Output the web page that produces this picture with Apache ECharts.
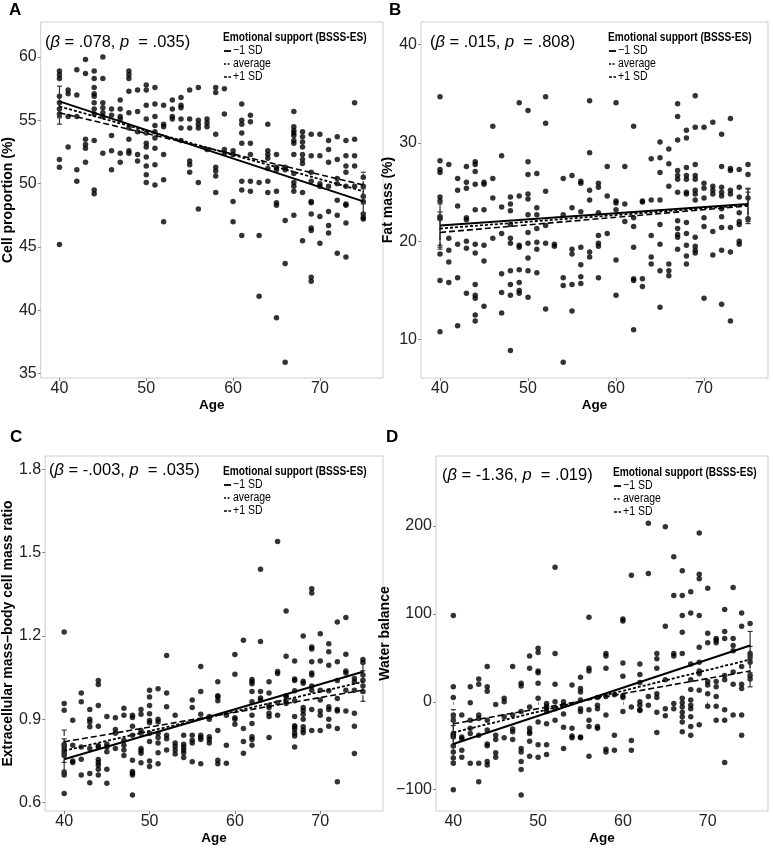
<!DOCTYPE html>
<html>
<head>
<meta charset="utf-8">
<script src="https://cdn.jsdelivr.net/npm/echarts@6.0.0/dist/echarts.min.js"></script>
<style>
html,body{margin:0;padding:0;background:#fff;}
#chart{width:773px;height:850px;}
</style>
</head>
<body>
<div id="chart"></div>
<script>
// ---------------- DATA ----------------
const groupNames = ['\u22121 SD', 'average', '+1 SD'];
const ageTicks = [40, 50, 60, 70];

// Panel A: Cell proportion (%)
const cellTicks = [35, 40, 45, 50, 55, 60];
const cellColumns = [
 [40,[58.9,58.6,58.3,56.9,56.4,55.9,55.5,51.9,51.3,45.2]],
 [41,[57.4,57.1,55.3,52.9]],
 [42,[59.0,57.0,55.3,51.1,50.2]],
 [43,[59.8,58.7,53.5,53.1,52.8,51.7]],
 [44,[58.9,58.3,57.6,57.1,56.9,56.4,55.9,55.5,53.4,49.5,49.2]],
 [45,[60.0,58.3,56.4,56.0,55.6,55.3,52.4]],
 [46,[55.9,55.4,53.8,52.6,51.1]],
 [47,[56.6,55.9,55.3,55.1,52.4,51.7]],
 [48,[58.9,58.6,58.3,57.3,55.6,54.4,53.5,52.6,52.4]],
 [49,[57.4,55.7,54.1,52.3,51.8]],
 [50,[57.8,57.4,56.2,55.1,54.0,53.2,52.9,52.1,51.4,50.7,50.1]],
 [51,[57.6,56.3,55.3,54.6,54.1,53.6,52.8,51.5,49.9]],
 [52,[56.2,54.7,54.5,52.3,50.3,47.0]],
 [53,[56.6,55.9,55.3,55.1]],
 [54,[56.8,56.2,56.0,55.1,54.4,53.4]],
 [55,[57.4,55.1,54.4,51.8,51.5,50.9]],
 [56,[57.6,55.0,54.7,54.4,50.1,48.0]],
 [57,[55.1,54.8,54.5,52.7]],
 [58,[57.6,57.2,53.9,51.3,51.0,50.6,49.3]],
 [59,[57.5,55.5,52.7,52.4]],
 [60,[52.6,52.3,48.6,47.0]],
 [61,[56.3,55.0,54.7,54.0,53.2,50.2,49.5,45.9]],
 [62,[55.4,54.9,53.2,52.3,50.2,49.4]],
 [63,[50.1,45.9,41.1]],
 [64,[54.7,52.6,52.3,52.0,51.2,50.2,49.3]],
 [65,[52.3,51.3,51.1,49.4,48.5,48.3,39.4]],
 [66,[51.3,51.1,47.1,43.7,35.9]],
 [67,[55.7,54.5,54.2,54.0,53.8,53.4,53.2,52.3,50.8,50.1,49.8,49.4,47.5]],
 [68,[54.1,53.7,53.3,52.9,52.3,51.9,51.6,49.3,45.5]],
 [69,[53.9,52.2,50.9,50.2,48.6,48.5,47.6,46.5,46.3,42.6,42.3]],
 [70,[53.9,52.2,50.0,49.8,47.4,45.3]],
 [71,[53.4,52.7,51.7,49.8,47.8,46.7,46.1]],
 [72,[53.7,51.9,50.4,50.0,48.7,47.5,44.5]],
 [73,[53.4,52.2,51.4,50.9,49.8,48.4,48.3,46.9,44.2]],
 [74,[56.4,53.5,52.2,51.4,49.8]],
 [75,[50.5,49.8,49.0,48.6,47.6,47.3,47.2]]
];
const cellFit = [[56.5,48.6],[56.1,49.4],[55.6,49.9]];       // value at age 40, 75
const cellCI40 = [[55.3,57.7],[55.2,57.0],[54.7,56.5]];
const cellCI75 = [[47.6,49.6],[48.4,50.4],[48.9,50.9]];

// Panel B: Fat mass (%)
const fatTicks = [10, 20, 30, 40];
const fatColumns = [
 [40,[34.7,28.2,27.3,27.0,24.5,24.1,22.5,22.3,18.7,16.0,10.8]],
 [41,[27.8,20.3,19.1,17.9,15.8]],
 [42,[26.4,25.2,23.6,19.7,16.3,11.4]],
 [43,[27.6,26.0,25.4,22.4,22.2,20.0,19.3,14.7]],
 [44,[28.1,27.8,27.1,25.8,23.2,19.7,18.8,15.6,14.5,14.2,12.5,11.9]],
 [45,[26.0,25.8,23.2,19.6,18.0,13.4]],
 [46,[31.7,26.4,24.4,20.3]],
 [47,[28.7,23.5,20.8,16.7,14.8,12.7]],
 [48,[24.5,23.8,23.1,21.7,20.3,19.8,17.0,15.6,14.5,8.9]],
 [49,[34.1,24.6,19.6,19.4,17.1,15.8,15.0,14.7]],
 [50,[33.3,28.1,26.8,24.8,24.3,22.7,20.9,19.8,18.3,17.0,14.3]],
 [51,[26.9,23.4,22.7,21.3,19.9,19.2,16.8]],
 [52,[34.7,32.0,25.1,21.6,19.8,13.1]],
 [53,[19.7,19.5]],
 [54,[26.4,22.7,16.3,15.5,7.7]],
 [55,[26.7,23.4,19.2,18.7,15.6,12.9]],
 [56,[26.1,25.9,23.0,19.4,17.6,16.4,15.7]],
 [57,[34.3,29.0,25.2,24.2,18.9,18.4]],
 [58,[25.9,25.5,22.9,20.6,19.8,19.5,16.3]],
 [59,[27.6,24.6,20.8]],
 [60,[34.1,24.1,23.9,23.2,18.1,14.5]],
 [61,[27.6,23.8,22.0]],
 [62,[31.7,22.4,21.5,19.4,16.2,16.0,11.0]],
 [63,[24.1,24.0,16.2,15.4]],
 [64,[28.4,24.2,20.6,18.4,17.7]],
 [65,[30.1,28.5,27.0,24.2,21.7,19.7,17.0,13.3]],
 [66,[29.4,27.9,25.6,17.7,17.0,16.5]],
 [67,[34.0,32.7,30.3,27.2,26.7,26.3,25.0,22.1,21.3,20.7,20.4,19.2]],
 [68,[31.3,30.5,27.5,26.7,26.3,25.0,24.8,21.9,20.8,19.6,18.5,17.7]],
 [69,[34.8,31.6,27.8,26.7,26.3,25.2,24.8,24.2,20.4,19.5,19.1,18.8]],
 [70,[31.6,25.9,25.4,24.4,22.4,21.5,14.2]],
 [71,[32.1,25.6,25.2,24.8,21.0,18.6]],
 [72,[30.9,27.6,25.5,25.0,24.6,23.3,22.5,21.4,19.1,13.6]],
 [73,[32.5,27.4,27.2,25.2,24.8,21.4,18.9,11.9]],
 [74,[27.3,25.5,24.5,22.9,22.0,21.7,20.0,19.7]],
 [75,[27.8,26.8,24.4,22.3]]
];
const fatFit = [[21.6,23.8],[21.3,23.7],[20.9,23.6]];
const fatCI40 = [[19.4,23.8],[19.6,23.0],[19.2,22.6]];
const fatCI75 = [[22.0,25.4],[22.2,25.0],[21.8,25.3]];

// Panel C: Extracellular mass–body cell mass ratio
const ratioTicks = [0.6, 0.9, 1.2, 1.5, 1.8];
const ratioColumns = [
 [40,[1.214,0.957,0.933,0.81,0.80,0.79,0.78,0.77,0.71,0.70,0.633]],
 [41,[0.897,0.807,0.75,0.745]],
 [42,[0.995,0.963,0.80,0.756,0.70]],
 [43,[0.935,0.90,0.89,0.873,0.795,0.705,0.672]],
 [44,[1.04,1.025,0.95,0.875,0.805,0.80,0.755,0.745,0.735,0.72,0.70]],
 [45,[0.91,0.81,0.80,0.783,0.72,0.67]],
 [46,[0.906,0.863,0.85,0.795]],
 [47,[0.94,0.915,0.825,0.807,0.79,0.77]],
 [48,[0.915,0.907,0.875,0.843,0.753,0.712,0.706,0.70,0.628]],
 [49,[0.935,0.918,0.86,0.85,0.795,0.787,0.778,0.744]],
 [50,[1.005,0.98,0.95,0.92,0.896,0.888,0.85,0.82,0.75,0.73]],
 [51,[1.01,0.90,0.89,0.85,0.835,0.815,0.78,0.74]],
 [52,[1.13,0.995,0.945,0.843,0.83,0.79]],
 [53,[0.915,0.815,0.803,0.79,0.775]],
 [54,[0.843,0.81,0.80,0.79,0.78,0.763]],
 [55,[0.97,0.943,0.843,0.825,0.815,0.747]],
 [56,[1.09,1.0,0.918,0.843,0.835,0.827,0.74]],
 [57,[0.91,0.90,0.837,0.827,0.815]],
 [58,[1.035,0.985,0.98,0.967,0.86,0.753,0.74]],
 [59,[0.915,0.807,0.742]],
 [60,[1.133,1.062,0.906,0.90,0.882]],
 [61,[1.185,0.867,0.82,0.778]],
 [62,[1.043,1.035,1.028,1.0,0.963,0.915,0.885,0.837,0.827,0.807]],
 [63,[1.44,1.18,1.0,0.977,0.97]],
 [64,[1.035,0.995,0.95,0.943,0.922,0.91,0.835]],
 [65,[1.54,1.072,1.065,0.96,0.915]],
 [66,[1.29,1.127,0.985,0.98,0.963,0.957]],
 [67,[1.11,1.045,1.04,1.003,0.967,0.91,0.877,0.872,0.863,0.85,0.84,0.80]],
 [68,[1.2,1.037,1.03,0.943,0.932,0.918,0.90,0.873,0.862,0.852]],
 [69,[1.37,1.355,1.16,1.153,1.107,1.067,1.06,1.02,1.005,0.935,0.86]],
 [70,[1.208,1.11,1.005,0.97,0.93,0.915,0.86]],
 [71,[1.172,1.143,1.095,1.003,0.945,0.935,0.90,0.875]],
 [72,[1.25,1.107,1.04,0.975,0.935,0.93,0.867,0.675]],
 [73,[1.267,1.134,1.074,1.067,1.005,0.93]],
 [74,[1.047,1.035,1.005,0.922,0.875,0.777]],
 [75,[1.115,1.105,1.06,1.04,1.02,1.0]]
];
const ratioFit = [[0.756,1.071],[0.787,1.035],[0.819,1.005]];
const ratioCI40 = [[0.705,0.807],[0.745,0.83],[0.775,0.861]];
const ratioCI75 = [[1.04,1.103],[0.995,1.075],[0.965,1.045]];

// Panel D: Water balance
const waterTicks = [-100, 0, 100, 200];
const waterColumns = [
 [40,[98,17,5,-15,-21,-36,-38,-40,-50,-57,-64,-70,-100]],
 [41,[-15,-40,-42,-55,-63]],
 [42,[17,-1,-21,-30,-36,-70]],
 [43,[26,20,-15,-19,-38,-70,-91]],
 [44,[40,17,12,-21,-32,-48,-50,-68,-72]],
 [45,[-3,-38,-43,-58,-63]],
 [46,[4,0,-17,-41]],
 [47,[40,-15,-31,-34,-43]],
 [48,[21,18,-11,-53,-57,-68,-77,-106]],
 [49,[52,38,-6,-30,-34,-36,-45,-62]],
 [50,[61,56,35,33,21,4,-23,-49,-63]],
 [51,[-2,-5,-8,-11,-25,-49,-60]],
 [52,[153,55,20,0,-8,-21]],
 [53,[0,-4,-14,-29,-53]],
 [54,[19,-30,-39,-41]],
 [55,[28,15,11,2,-8,-11,-40,-41]],
 [56,[96,38,35,-9,-21,-28,-62]],
 [57,[5,-4,-8,-28,-30]],
 [58,[55,52,38,6,-15,-54,-57]],
 [59,[8,-38,-55]],
 [60,[94,92,44,29,7,5,-11]],
 [61,[144,-6,-44,-55]],
 [62,[43,31,22,0,-4,-9,-10]],
 [63,[203,146,6,-4]],
 [64,[55,49,38,9,5,-12,-35]],
 [65,[199,86,25,-8,-16]],
 [66,[165,121,55,52,-2,-8]],
 [67,[149,121,98,79,55,4,-1,-6,-12,-17,-23,-34]],
 [68,[125,101,43,25,14,2,-4,-8,-17,-28,-38]],
 [69,[192,145,140,98,62,45,35,32,13,-26]],
 [70,[129,78,67,23,19,9,-5]],
 [71,[72,70,67,23,17,6,-5,-21]],
 [72,[105,80,72,30,25,-9,-21,-69]],
 [73,[130,72,64,58,34,20,-15]],
 [74,[101,86,40,20,15,-15,-38]],
 [75,[89,55,51,45,26,30]]
];
const waterFit = [[-48,64],[-35,48],[-25,35]];
const waterCI40 = [[-68,-27],[-52,-18],[-41,-9]];
const waterCI75 = [[48,80],[33,63],[17,53]];

// ---------------- LAYOUT / STYLE ----------------
const REG = '"Liberation Sans",Arial,sans-serif';
const lineTypes = ['solid', [3, 2], [6, 3]];
const lineWidths = [2, 1.8, 1.6];
const NARROW_SCALE = 0.78;

const panels = [
  {key:'A', cols:cellColumns, fit:cellFit, ci40:cellCI40, ci75:cellCI75, ticks:cellTicks,
   grid:{left:36, top:22, width:347, height:356}, x:[37.84,77.27], y:[34.65,62.77],
   yname:'Cell proportion (%)', fmt:v=>String(v), beta:'.078', p:'.035',
   letter:[15,11], ann:[45,42], leg:[223,37], ygap:17},
  {key:'B', cols:fatColumns, fit:fatFit, ci40:fatCI40, ci75:fatCI75, ticks:fatTicks,
   grid:{left:421, top:22, width:347, height:356}, x:[37.84,77.27], y:[6.09,42.31],
   yname:'Fat mass (%)', fmt:v=>String(v), beta:'.015', p:'.808',
   letter:[395,11], ann:[430,42], leg:[608,37], ygap:15},
  {key:'C', cols:ratioColumns, fit:ratioFit, ci40:ratioCI40, ci75:ratioCI75, ticks:ratioTicks,
   grid:{left:40, top:456, width:343, height:355}, x:[37.77,77.35], y:[0.570,1.848],
   yname:'Extracellular mass\u2013body cell mass ratio', fmt:v=>v.toFixed(1), beta:'-.003', p:'.035',
   letter:[16,438], ann:[49,470], leg:[223,471], ygap:21},
  {key:'D', cols:waterColumns, fit:waterFit, ci40:waterCI40, ci75:waterCI75, ticks:waterTicks,
   grid:{left:436, top:456, width:332, height:355}, x:[37.96,77.11], y:[-124.2,279.5],
   yname:'Water balance', fmt:v=>String(v).replace('-', '\u2212'), beta:'-1.36', p:'.019',
   letter:[392,438], ann:[442,475], leg:[613,472], ygap:30}
];

function flatten(cols){
  const out = [];
  cols.forEach(c => c[1].forEach(v => out.push([c[0], v])));
  return out;
}

function errRender(dash, width){
  return function(params, api){
    const x = api.value(0), lo = api.value(1), hi = api.value(2);
    const a = api.coord([x, lo]), b = api.coord([x, hi]);
    const hw = 2.5;
    const st = {stroke:'#333', lineWidth:width, lineDash: dash === 'solid' ? null : dash, fill:null};
    const cst = {stroke:'#333', lineWidth:1.2, fill:null};
    return {type:'group', children:[
      {type:'line', shape:{x1:a[0], y1:a[1], x2:b[0], y2:b[1]}, style:st},
      {type:'line', shape:{x1:a[0]-hw, y1:a[1], x2:a[0]+hw, y2:a[1]}, style:cst},
      {type:'line', shape:{x1:b[0]-hw, y1:b[1], x2:b[0]+hw, y2:b[1]}, style:cst}
    ]};
  };
}

const grids = [], xAxes = [], yAxes = [], series = [], graphics = [];

panels.forEach((pn, i) => {
  grids.push(Object.assign({show:true, borderColor:'#cdcdcd', borderWidth:1, backgroundColor:'#fff', containLabel:false}, pn.grid));
  xAxes.push({
    type:'value', gridIndex:i, min:pn.x[0], max:pn.x[1],
    name:'Age', nameLocation:'middle', nameGap:18,
    nameTextStyle:{fontFamily:REG, fontWeight:'bold', fontSize:13.5, color:'#000'},
    axisLine:{show:false}, splitLine:{show:false},
    axisTick:{show:true, length:3, lineStyle:{color:'#888'}, customValues:ageTicks},
    axisLabel:{show:true, margin:3, fontFamily:REG, fontSize:16, color:'#222', customValues:ageTicks}
  });
  yAxes.push({
    type:'value', gridIndex:i, min:pn.y[0], max:pn.y[1],
    name:pn.yname, nameLocation:'middle', nameGap:pn.ygap,
    nameTextStyle:{fontFamily:REG, fontWeight:'bold', fontSize:14, color:'#000'},
    axisLine:{show:false}, splitLine:{show:false},
    axisTick:{show:true, length:3, lineStyle:{color:'#888'}, customValues:pn.ticks},
    axisLabel:{show:true, margin:4, fontFamily:REG, fontSize:16, color:'#222', customValues:pn.ticks, formatter:pn.fmt}
  });
  series.push({
    type:'scatter', xAxisIndex:i, yAxisIndex:i, data:flatten(pn.cols),
    symbol:'circle', symbolSize:5.5, itemStyle:{color:'#000'}, silent:true, z:2
  });
  groupNames.forEach((g, k) => {
    series.push({
      type:'line', name:g, xAxisIndex:i, yAxisIndex:i,
      data:[[40, pn.fit[k][0]], [75, pn.fit[k][1]]],
      symbol:'none', lineStyle:{color:'#000', width:lineWidths[k], type:lineTypes[k]}, z:4, silent:true
    });
    series.push({
      type:'custom', name:g + ' CI', xAxisIndex:i, yAxisIndex:i,
      data:[[40, pn.ci40[k][0], pn.ci40[k][1]], [75, pn.ci75[k][0], pn.ci75[k][1]]],
      renderItem: errRender(lineTypes[k], 1.2), z:3, silent:true
    });
  });

  // panel letter
  graphics.push({type:'text', left:pn.letter[0]-6, top:pn.letter[1]-9,
    style:{text:pn.key, font:'bold 17px ' + REG, fill:'#000'}});
  // annotation
  const annFont = '16.5px ' + REG;
  graphics.push({type:'text', x:pn.ann[0], y:pn.ann[1],
    style:{text:'{a|(}{i|\u03B2}{a| = ' + pn.beta + ', }{i|p}{a|  = ' + pn.p + ')}',
      verticalAlign:'middle', align:'left', font:annFont, fill:'#000',
      rich:{a:{font:annFont, fill:'#000'}, i:{font:'italic ' + annFont, fill:'#000'}}}});
  // legend (condensed lettering via horizontal scale)
  const lx = pn.leg[0], ly = pn.leg[1];
  graphics.push({type:'text', x:lx, y:ly, scaleX:NARROW_SCALE,
    style:{text:'Emotional support (BSSS-ES)', font:'bold 13px ' + REG, fill:'#000', verticalAlign:'middle', align:'left'}});
  const offs = [14, 27, 40];
  groupNames.forEach((g, k) => {
    const yy = ly + offs[k];
    graphics.push({type:'line', shape:{x1:lx+1, y1:yy, x2:lx+8, y2:yy},
      style:{stroke:'#000', lineWidth:k === 0 ? 1.8 : 1.4, lineDash: k === 0 ? null : (k === 1 ? [2, 1.5] : [3, 1.5])}});
    graphics.push({type:'text', x:lx+10, y:yy, scaleX:0.84,
      style:{text:g, font:'12.5px ' + REG, fill:'#000', verticalAlign:'middle', align:'left'}});
  });
});

const chart = echarts.init(document.getElementById('chart'), null, {renderer:'canvas'});
chart.setOption({
  animation:false,
  backgroundColor:'#fff',
  grid:grids, xAxis:xAxes, yAxis:yAxes, series:series, graphic:graphics
});
</script>
</body>
</html>
